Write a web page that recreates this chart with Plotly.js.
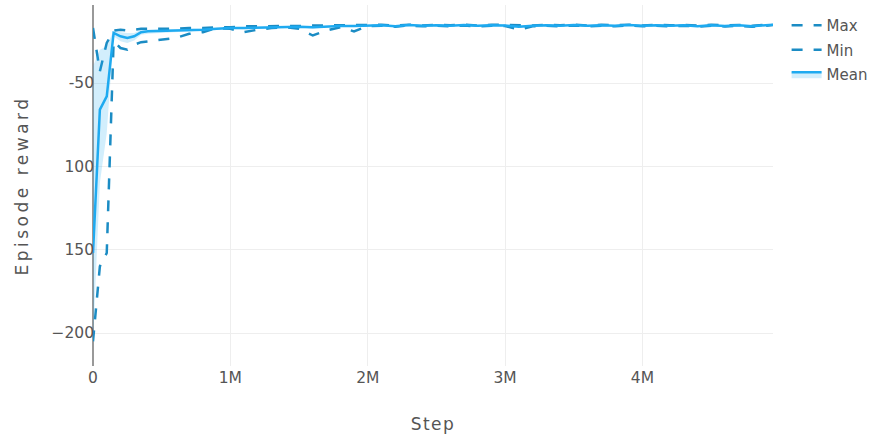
<!DOCTYPE html>
<html>
<head>
<meta charset="utf-8">
<script src="https://cdn.plot.ly/plotly-3.0.1.min.js"></script>
<style>
html, body { margin: 0; padding: 0; background: #fff; }
#chart { width: 884px; height: 436px; }
.ytitle { letter-spacing: 3.5px; }
.xtitle { letter-spacing: 1.5px; }
</style>
</head>
<body>
<div id="chart"></div>
<script>
const steps = [0, 50000, 100000, 150000, 200000, 250000, 300000, 350000, 400000,
  500000, 600000, 700000, 800000, 900000, 1000000, 1100000, 1200000, 1300000, 1400000,
  1500000, 1600000, 1700000, 1800000, 1900000, 2000000,
  2100000, 2200000, 2300000, 2400000, 2500000, 2600000, 2700000, 2800000, 2900000, 3000000,
  3100000, 3200000, 3300000, 3400000, 3500000, 3600000, 3700000, 3800000, 3900000, 4000000,
  4100000, 4200000, 4300000, 4400000, 4500000, 4600000, 4700000, 4800000, 4900000, 4950000];

const maxReward = [-17, -43, -26, -18.5, -18, -18.5, -18, -17.5, -17.5,
  -17.5, -17.5, -17, -17, -16.5, -16.5, -16, -16, -16, -16,
  -15.8, -15.5, -15.5, -15.3, -15.5, -15.2,
  -15.0, -15.6, -15.0, -15.5, -15.1, -15.4, -15.0, -15.5, -15.0, -15.3,
  -15.2, -15.5, -15.0, -15.4, -15.0, -15.5, -15.0, -15.4, -15.0, -15.5,
  -15.0, -15.4, -15.1, -15.6, -15.0, -15.5, -15.2, -15.6, -15.0, -14.8];

const minReward = [-205, -160, -152, -25, -29, -30, -27, -25.5, -25,
  -24, -23, -20.5, -19.5, -17, -17.5, -19.5, -18, -17, -16.5,
  -17.5, -21.5, -18.5, -16.5, -19, -15.8,
  -15.6, -16.2, -15.5, -16.0, -15.6, -16.0, -15.5, -16.0, -15.6, -15.8,
  -18.0, -16.0, -15.6, -16.0, -15.5, -16.0, -15.6, -16.0, -15.5, -16.0,
  -15.6, -16.0, -15.6, -16.2, -15.6, -16.1, -15.7, -16.3, -15.6, -15.2];

const meanReward = [-152, -66, -58, -20, -22, -23, -22, -19.5, -19,
  -18.8, -18.5, -18.3, -18, -17.5, -17, -17, -16.8, -16.5, -16.5,
  -16.3, -16.5, -16, -15.8, -15.8, -15.5,
  -15.3, -15.9, -15.2, -15.7, -15.3, -15.7, -15.2, -15.7, -15.3, -15.5,
  -16.2, -15.7, -15.3, -15.7, -15.2, -15.7, -15.3, -15.7, -15.2, -15.7,
  -15.3, -15.7, -15.3, -15.9, -15.3, -15.8, -15.4, -15.9, -15.3, -15.0];

const upperBand = [-40, -30, -28, -18.5, -19.5, -20, -20, -18, -18,
  -18, -17.8, -17.6, -17.3, -16.9, -16.5, -16.5, -16.3, -16.0, -16.0,
  -15.8, -16.0, -15.6, -15.4, -15.4, -15.1,
  -15.0, -15.6, -14.9, -15.4, -15.0, -15.4, -14.9, -15.4, -15.0, -15.2,
  -15.4, -15.4, -15.0, -15.4, -14.9, -15.4, -15.0, -15.4, -14.9, -15.4,
  -15.0, -15.4, -15.0, -15.6, -15.0, -15.5, -15.1, -15.6, -15.0, -14.7];

const lowerBand = [-205, -110, -80, -22, -25, -26, -24.5, -21, -20.5,
  -20, -19.5, -19, -18.7, -18.2, -17.6, -17.8, -17.4, -17.0, -17.0,
  -16.9, -17.4, -16.5, -16.2, -16.4, -15.9,
  -15.6, -16.2, -15.5, -16.0, -15.6, -16.0, -15.5, -16.0, -15.6, -15.8,
  -17.0, -16.0, -15.6, -16.0, -15.5, -16.0, -15.6, -16.0, -15.5, -16.0,
  -15.6, -16.0, -15.6, -16.2, -15.6, -16.1, -15.7, -16.2, -15.6, -15.3];

const yTickVals = [-200, -150, -100, -50];
const yTickText = ['\u2212200', '150', '100', '-50'];
const xTickVals = [0, 1000000, 2000000, 3000000, 4000000];
const xTickText = ['0', '1M', '2M', '3M', '4M'];

const dashColor = '#1b8cc4';
const meanColor = '#1eaaf0';
const bandColor = 'rgba(30,170,240,0.2)';
const dashStyle = '11px,11px';
const fontFamily = '"DejaVu Sans", Verdana, sans-serif';

const traces = [
  { x: steps, y: maxReward, name: 'Max', legendgroup: 'max', mode: 'lines', type: 'scatter',
    line: { color: dashColor, width: 2.5, dash: dashStyle } },
  { x: steps, y: minReward, name: 'Min', legendgroup: 'min', mode: 'lines', type: 'scatter',
    line: { color: dashColor, width: 2.5, dash: dashStyle } },
  { x: steps, y: lowerBand, name: 'lower', legendgroup: 'mean', mode: 'lines', type: 'scatter',
    line: { width: 0, color: bandColor }, showlegend: false, hoverinfo: 'skip' },
  { x: steps, y: meanReward, name: 'Mean', legendgroup: 'mean', mode: 'lines', type: 'scatter',
    fill: 'tonexty', fillcolor: bandColor,
    line: { color: meanColor, width: 2.5 } },
  { x: steps, y: upperBand, name: 'upper', legendgroup: 'mean', mode: 'lines', type: 'scatter',
    fill: 'tonexty', fillcolor: bandColor,
    line: { width: 0, color: bandColor }, showlegend: false, hoverinfo: 'skip' }
];

const layout = {
  width: 884, height: 436,
  margin: { l: 93, r: 111, t: 5, b: 70 },
  paper_bgcolor: '#fff', plot_bgcolor: '#fff',
  font: { family: fontFamily, size: 15, color: '#555' },
  showlegend: true,
  legend: { x: 1.02, y: 0.989, traceorder: 'grouped', tracegroupgap: 2,
    font: { family: fontFamily, size: 15, color: '#555' }, bgcolor: 'rgba(0,0,0,0)' },
  xaxis: {
    range: [0, 4950000],
    tickvals: xTickVals, ticktext: xTickText,
    showgrid: true, gridcolor: '#eee', gridwidth: 1,
    zeroline: true, zerolinecolor: '#999', zerolinewidth: 2,
    showline: false, ticks: '',
    tickfont: { family: fontFamily, size: 15.5, color: '#555' },
    title: { text: 'Step', font: { family: fontFamily, size: 17, color: '#555' }, standoff: 32 }
  },
  yaxis: {
    range: [-219.8, -3.2],
    tickvals: yTickVals, ticktext: yTickText,
    showgrid: true, gridcolor: '#eee', gridwidth: 1,
    zeroline: false, showline: false, ticks: '',
    ticklabelstandoff: -2,
    tickfont: { family: fontFamily, size: 15.5, color: '#555' },
    title: { text: 'Episode reward', font: { family: fontFamily, size: 17, color: '#555' }, standoff: 18 }
  }
};

Plotly.newPlot('chart', traces, layout, { displayModeBar: false, staticPlot: true });
</script>
</body>
</html>
